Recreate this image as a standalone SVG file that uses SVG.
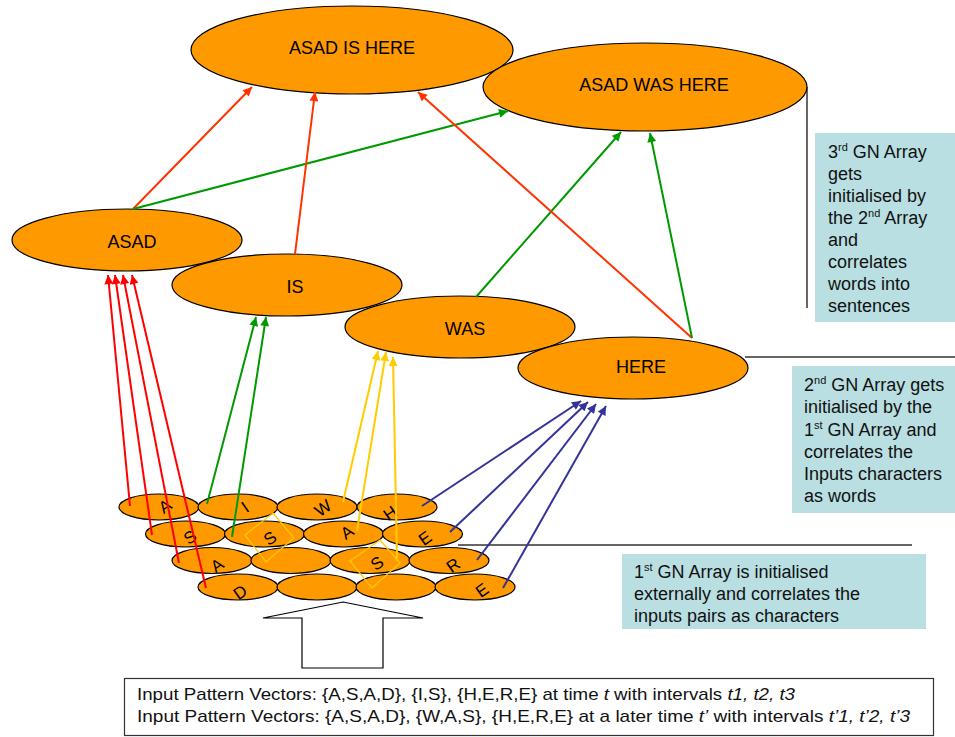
<svg xmlns="http://www.w3.org/2000/svg" width="955" height="737" viewBox="0 0 955 737">
<style>
.node{fill:#FF9900;stroke:#000;stroke-width:1.2}
.cell{fill:#FF9900;stroke:#000;stroke-width:1.2}
.nt{font-family:"Liberation Sans",Arial,sans-serif;font-size:18px;fill:#000;text-anchor:middle}
.lt{font-family:"Liberation Sans",Arial,sans-serif;font-size:17px;fill:#000;text-anchor:middle}
.bt{font-family:"Liberation Sans",Arial,sans-serif;font-size:18px;fill:#111}
.sup{font-size:11px}
.box{fill:#B9DFE2}
.div{stroke:#333;stroke-width:1.5;fill:none}
.c{fill:none;stroke-width:2}
.red{stroke:#FF0000}
.ored{stroke:#FF3300}
.grn{stroke:#009900}
.yel{stroke:#FFCC00}
.blu{stroke:#333399}
.it{font-style:italic}
</style>
<defs>
<marker id="mRed" viewBox="0 0 10 10" refX="10" refY="5" markerWidth="10" markerHeight="9" orient="auto" markerUnits="userSpaceOnUse"><path d="M0,0 L10,5 L0,10 z" fill="#FF0000"/></marker>
<marker id="mORed" viewBox="0 0 10 10" refX="10" refY="5" markerWidth="10" markerHeight="9" orient="auto" markerUnits="userSpaceOnUse"><path d="M0,0 L10,5 L0,10 z" fill="#FF3300"/></marker>
<marker id="mGrn" viewBox="0 0 10 10" refX="10" refY="5" markerWidth="10" markerHeight="9" orient="auto" markerUnits="userSpaceOnUse"><path d="M0,0 L10,5 L0,10 z" fill="#009900"/></marker>
<marker id="mYel" viewBox="0 0 10 10" refX="10" refY="5" markerWidth="10" markerHeight="9" orient="auto" markerUnits="userSpaceOnUse"><path d="M0,0 L10,5 L0,10 z" fill="#FFCC00"/></marker>
<marker id="mBlu" viewBox="0 0 10 10" refX="10" refY="5" markerWidth="10" markerHeight="9" orient="auto" markerUnits="userSpaceOnUse"><path d="M0,0 L10,5 L0,10 z" fill="#333399"/></marker>
</defs>

<!-- divider lines -->
<g id="dividers">
<line class="div" x1="807" y1="87" x2="807" y2="308"/>
<line class="div" x1="745" y1="357" x2="955" y2="357"/>
<line class="div" x1="458" y1="545" x2="912" y2="545"/>
</g>

<!-- sentence layer -->
<g id="n-asad-is-here"><ellipse class="node" cx="352" cy="50" rx="161" ry="44"/><text class="nt" x="352" y="54">ASAD IS HERE</text></g>
<g id="n-asad-was-here"><ellipse class="node" cx="645" cy="87" rx="162" ry="44"/><text class="nt" x="654" y="91">ASAD WAS HERE</text></g>

<!-- word layer -->
<g id="n-asad"><ellipse class="node" cx="127" cy="240" rx="115" ry="31"/><text class="nt" x="132" y="248">ASAD</text></g>
<g id="n-is"><ellipse class="node" cx="287" cy="285" rx="115" ry="31"/><text class="nt" x="295" y="293">IS</text></g>
<g id="n-was"><ellipse class="node" cx="460" cy="327" rx="115" ry="31"/><text class="nt" x="465" y="335">WAS</text></g>
<g id="n-here"><ellipse class="node" cx="633" cy="368" rx="115" ry="31"/><text class="nt" x="641" y="373">HERE</text></g>

<!-- character grid -->
<g id="grid">
<g id="row1">
<ellipse class="cell" cx="159" cy="507" rx="40" ry="13"/>
<ellipse class="cell" cx="238" cy="507" rx="40" ry="13"/>
<ellipse class="cell" cx="317" cy="507" rx="40" ry="13"/>
<ellipse class="cell" cx="397" cy="507" rx="40" ry="13"/>
</g>
<g id="row2">
<ellipse class="cell" cx="185.5" cy="534" rx="40" ry="13"/>
<ellipse class="cell" cx="264.5" cy="534" rx="40" ry="13"/>
<ellipse class="cell" cx="343.5" cy="534" rx="40" ry="13"/>
<ellipse class="cell" cx="422.5" cy="534" rx="40" ry="13"/>
</g>
<g id="row3">
<ellipse class="cell" cx="212" cy="560.5" rx="40" ry="13"/>
<ellipse class="cell" cx="291" cy="560.5" rx="40" ry="13"/>
<ellipse class="cell" cx="370" cy="560.5" rx="40" ry="13"/>
<ellipse class="cell" cx="449" cy="560.5" rx="40" ry="13"/>
</g>
<g id="row4">
<ellipse class="cell" cx="238" cy="587" rx="40" ry="13"/>
<ellipse class="cell" cx="317" cy="587" rx="40" ry="13"/>
<ellipse class="cell" cx="396" cy="587" rx="40" ry="13"/>
<ellipse class="cell" cx="475" cy="587" rx="40" ry="13"/>
</g>
<g id="letters">
<text class="lt" transform="translate(165,506) rotate(-35)" dy=".35em">A</text>
<text class="lt" transform="translate(245,507) rotate(-35)" dy=".35em">I</text>
<text class="lt" transform="translate(323,508) rotate(-35)" dy=".35em">W</text>
<text class="lt" transform="translate(390,513) rotate(-35)" dy=".35em">H</text>
<text class="lt" transform="translate(190,537) rotate(-35)" dy=".35em">S</text>
<text class="lt" transform="translate(270,538) rotate(-35)" dy=".35em">S</text>
<text class="lt" transform="translate(347,532) rotate(-35)" dy=".35em">A</text>
<text class="lt" transform="translate(425,538) rotate(-35)" dy=".35em">E</text>
<text class="lt" transform="translate(217,565) rotate(-35)" dy=".35em">A</text>
<text class="lt" transform="translate(377,563) rotate(-35)" dy=".35em">S</text>
<text class="lt" transform="translate(453,565) rotate(-35)" dy=".35em">R</text>
<text class="lt" transform="translate(240,592) rotate(-35)" dy=".35em">D</text>
<text class="lt" transform="translate(482,590) rotate(-35)" dy=".35em">E</text>
</g>
<g id="highlights" fill="none" stroke="#FFCC00" stroke-width="1.2">
<polygon points="273,513 294,538 266,562 245,535"/>
<polygon points="380,540 400,563 372,588 350,561"/>
</g>
</g>

<!-- connectors -->
<g id="connectors">
<line class="c red" x1="130" y1="506" x2="108" y2="275" marker-end="url(#mRed)"/>
<line class="c red" x1="152" y1="535" x2="115" y2="275" marker-end="url(#mRed)"/>
<line class="c red" x1="179" y1="563" x2="123" y2="275" marker-end="url(#mRed)"/>
<line class="c red" x1="206" y1="588" x2="132" y2="275" marker-end="url(#mRed)"/>
<line class="c grn" x1="207" y1="504" x2="256" y2="317" marker-end="url(#mGrn)"/>
<line class="c grn" x1="232" y1="537" x2="266" y2="317" marker-end="url(#mGrn)"/>
<line class="c yel" x1="343" y1="502" x2="378" y2="351" marker-end="url(#mYel)"/>
<line class="c yel" x1="357" y1="531" x2="386" y2="352" marker-end="url(#mYel)"/>
<line class="c yel" x1="397" y1="558" x2="393" y2="357" marker-end="url(#mYel)"/>
<line class="c blu" x1="422" y1="506" x2="581" y2="401" marker-end="url(#mBlu)"/>
<line class="c blu" x1="450" y1="532" x2="588" y2="402" marker-end="url(#mBlu)"/>
<line class="c blu" x1="477" y1="560" x2="596" y2="404" marker-end="url(#mBlu)"/>
<line class="c blu" x1="503" y1="588" x2="606" y2="406" marker-end="url(#mBlu)"/>
<line class="c ored" x1="133" y1="209" x2="252" y2="87" marker-end="url(#mORed)"/>
<line class="c grn" x1="133" y1="209" x2="508" y2="111" marker-end="url(#mGrn)"/>
<line class="c ored" x1="295" y1="254" x2="315" y2="92" marker-end="url(#mORed)"/>
<line class="c grn" x1="476" y1="297" x2="621" y2="132" marker-end="url(#mGrn)"/>
<line class="c ored" x1="692" y1="338" x2="418" y2="92" marker-end="url(#mORed)"/>
<line class="c grn" x1="692" y1="338" x2="650" y2="133" marker-end="url(#mGrn)"/>
</g>

<!-- annotation boxes -->
<g id="note3">
<rect class="box" x="815" y="133" width="140" height="189"/>
<text class="bt" x="828" y="158">3<tspan class="sup" dy="-7">rd</tspan><tspan dy="7"> GN Array</tspan></text>
<text class="bt" x="828" y="180">gets</text>
<text class="bt" x="828" y="202">initialised by</text>
<text class="bt" x="828" y="224">the 2<tspan class="sup" dy="-7">nd</tspan><tspan dy="7"> Array</tspan></text>
<text class="bt" x="828" y="246">and</text>
<text class="bt" x="828" y="268">correlates</text>
<text class="bt" x="828" y="290">words into</text>
<text class="bt" x="828" y="312">sentences</text>
</g>
<g id="note2">
<rect class="box" x="792" y="366" width="163" height="147"/>
<text class="bt" x="804" y="391">2<tspan class="sup" dy="-7">nd</tspan><tspan dy="7"> GN Array gets</tspan></text>
<text class="bt" x="804" y="413">initialised by the</text>
<text class="bt" x="804" y="436">1<tspan class="sup" dy="-7">st</tspan><tspan dy="7"> GN Array and</tspan></text>
<text class="bt" x="804" y="458">correlates the</text>
<text class="bt" x="804" y="480">Inputs characters</text>
<text class="bt" x="804" y="502">as words</text>
</g>
<g id="note1">
<rect class="box" x="622" y="554" width="304" height="75"/>
<text class="bt" x="634" y="578">1<tspan class="sup" dy="-7">st</tspan><tspan dy="7"> GN Array is initialised</tspan></text>
<text class="bt" x="634" y="600">externally and correlates the</text>
<text class="bt" x="634" y="622">inputs pairs as characters</text>
</g>

<!-- input arrow -->
<g id="input-arrow">
<polygon points="343,602 423,618 383,618 383,668 302,668 302,618 263,618" fill="#fff" stroke="#000" stroke-width="1.2"/>
</g>

<!-- input box -->
<g id="input-box">
<rect x="124.5" y="678.5" width="809" height="57" fill="#fff" stroke="#333" stroke-width="1.2"/>
<text class="bt" style="font-size:17px" x="137" y="700" textLength="658" lengthAdjust="spacingAndGlyphs">Input Pattern Vectors: {A,S,A,D}, {I,S}, {H,E,R,E} at time <tspan class="it">t</tspan> with intervals <tspan class="it">t1, t2, t3</tspan></text>
<text class="bt" style="font-size:17px" x="137" y="722" textLength="773" lengthAdjust="spacingAndGlyphs">Input Pattern Vectors: {A,S,A,D}, {W,A,S}, {H,E,R,E} at a later time <tspan class="it">t’</tspan> with intervals <tspan class="it">t’1, t’2, t’3</tspan></text>
</g>
</svg>
